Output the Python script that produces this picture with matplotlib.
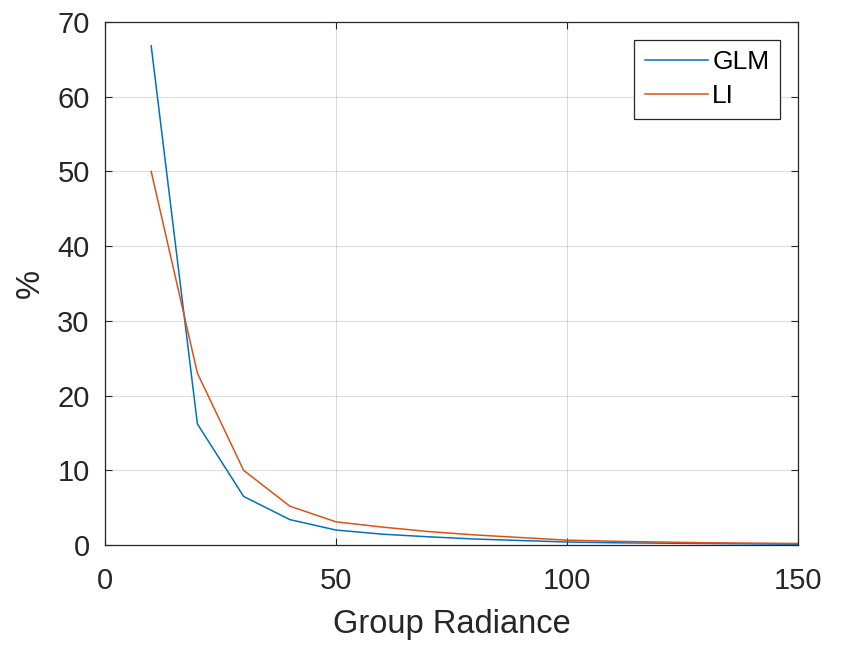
import matplotlib
matplotlib.use("Agg")
import matplotlib.pyplot as plt

x_vals = [10, 20, 30, 40, 50, 60, 70, 80, 90, 100, 110, 120, 130, 140, 150]
glm = [66.8, 16.2, 6.5, 3.4, 2.0, 1.45, 1.1, 0.8, 0.6, 0.4, 0.3, 0.25, 0.2, 0.15, 0.1]
li = [50.0, 23.0, 10.0, 5.2, 3.1, 2.4, 1.8, 1.35, 1.0, 0.65, 0.5, 0.4, 0.3, 0.25, 0.2]
series_names = ["GLM", "LI"]
x_ticks = [0, 50, 100, 150]
y_ticks = [0, 10, 20, 30, 40, 50, 60, 70]

plt.rcParams['font.family'] = ['Liberation Sans', 'DejaVu Sans']
tc = '#262626'

fig = plt.figure(figsize=(8.41, 6.49), dpi=100)
ax = fig.add_axes([105/841, 1-545/649, (798-105)/841, (545-22)/649])
ax.plot(x_vals, glm, color='#0072BD', lw=1.1, label=series_names[0])
ax.plot(x_vals, li, color='#D95319', lw=1.1, label=series_names[1])
ax.set_xlim(0, 150)
ax.set_ylim(0, 70)
ax.set_xticks(x_ticks)
ax.set_yticks(y_ticks)
ax.grid(True, color='#262626', alpha=0.15, lw=0.8)
ax.tick_params(direction='in', length=5, width=0.8, colors=tc, labelsize=21,
               top=True, right=True)
ax.tick_params(axis='x', pad=16)
ax.tick_params(axis='y', pad=11)
for s in ax.spines.values():
    s.set_color(tc)
    s.set_linewidth(0.9)
ax.set_xlabel('Group Radiance', fontsize=23.5, color=tc, labelpad=10)
ax.set_ylabel('%', fontsize=23.5, color=tc, labelpad=8)
leg = ax.legend(loc='upper right', bbox_to_anchor=(0.974, 0.966), borderaxespad=0,
                fontsize=19, fancybox=False, framealpha=1, edgecolor=tc,
                handlelength=2.4, handletextpad=0.15, borderpad=0.4, labelspacing=0.38)
leg.get_frame().set_linewidth(0.9)
for t in leg.get_texts():
    t.set_color('black')
fig.savefig('out.png', dpi=100, facecolor='white')
